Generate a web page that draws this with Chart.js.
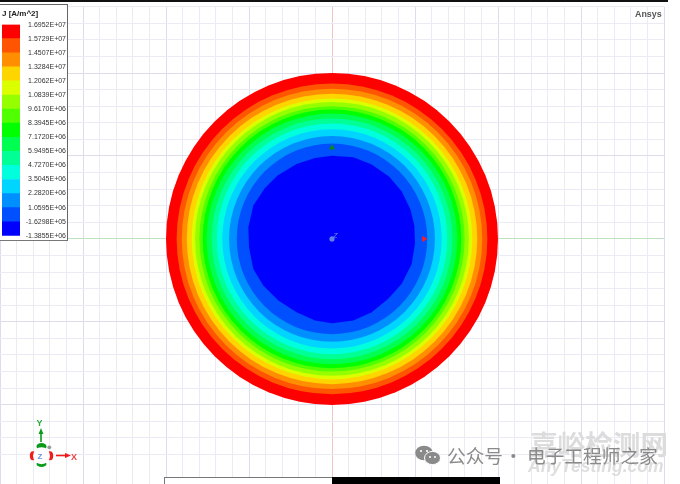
<!DOCTYPE html>
<html>
<head>
<meta charset="utf-8">
<title>J [A/m^2]</title>
<script src="https://cdn.jsdelivr.net/npm/chart.js@4"></script>
<style>
  html, body { margin: 0; padding: 0; background: #fff; overflow: hidden; }
  #page { position: relative; width: 680px; height: 484px; overflow: hidden; filter: blur(0.4px); }
  #plot { position: absolute; left: 0; top: 0; }
  #legendBox { position: absolute; left: 0; top: 4px; width: 67px; height: 235px; background: #fff;
    border-top: 1.5px solid #666; border-right: 1.5px solid #666; border-bottom: 1px solid #777; }
  #legendChart { position: absolute; left: 0; top: 0; }
  #topBar { position: absolute; left: 0; top: 0; width: 668px; height: 2px; background: #111; }
  .scaleBar { position: absolute; top: 477px; height: 8px; box-sizing: border-box; }
  .label { position: absolute; white-space: nowrap; line-height: 1; }
  #gizmo { position: absolute; left: 0; top: 0; }
</style>
</head>
<body>
<div id="page">
  <canvas id="plot" width="680" height="484"></canvas>
  <div id="topBar"></div>
  <div id="legendBox"><canvas id="legendChart" width="67" height="241"></canvas></div>
  <div class="scaleBar" style="left:164px;width:168px;background:#fff;border:1px solid #777;border-right:0"></div>
  <div class="scaleBar" style="left:332px;width:168px;background:#000"></div>
  <span class="label" style="left:635px;top:9px;font:bold 8.9px 'Liberation Sans';color:#555">Ansys</span>
  <span class="label" style="left:333px;top:231px;font:italic 7.5px 'Liberation Sans';color:#6f86e6">Z</span>
  <svg id="gizmo" width="680" height="484">
    <ellipse cx="41.5" cy="446.5" rx="5" ry="3.4" fill="#0a9a1a"/>
    <ellipse cx="41.5" cy="464" rx="5" ry="3" fill="#0a9a1a"/>
    <ellipse cx="33" cy="455.7" rx="3.2" ry="4.5" fill="#f01c1c"/>
    <ellipse cx="50" cy="455.7" rx="3.2" ry="4.5" fill="#f01c1c"/>
    <circle cx="41.5" cy="455.7" r="8.5" fill="#fff"/>
    <circle cx="49.3" cy="447.3" r="1.9" fill="#999"/>
    <path d="M41 442V432" stroke="#0a9a1a" stroke-width="1.6"/>
    <path d="M41 428l2.4 6h-4.8z" fill="#0a9a1a"/>
    <path d="M56 455.5H66" stroke="#f01c1c" stroke-width="1.6"/>
    <path d="M71 455.5l-6 2.4v-4.8z" fill="#f01c1c"/>
    <text x="36.5" y="426" font-family="Liberation Sans" font-size="9" font-weight="bold" fill="#27a838">Y</text>
    <text x="71" y="460" font-family="Liberation Sans" font-size="9" font-weight="bold" fill="#f04040">X</text>
    <text x="37.5" y="459" font-family="Liberation Sans" font-size="8" font-weight="bold" fill="#6f90e0">Z</text>
    <ellipse cx="424" cy="453" rx="8.8" ry="7.3" fill="#8a8a8a"/>
    <ellipse cx="432.5" cy="458" rx="8" ry="6.6" fill="#8a8a8a" stroke="#fff" stroke-width="1"/>
    <circle cx="421" cy="451" r="1.1" fill="#fff"/><circle cx="427" cy="451" r="1.1" fill="#fff"/>
    <circle cx="430" cy="457" r="1" fill="#fff"/><circle cx="435" cy="457" r="1" fill="#fff"/>
  </svg>
  <span class="label" style="left:530px;top:423px;font:bold 27.6px 'Noto Sans CJK SC';color:#dcdcdc">嘉峪检测网</span>
  <span class="label" style="left:528px;top:456px;font:italic bold 17.5px 'Liberation Sans';color:#dedede">AnyTesting.com</span>
  <span class="label" style="left:447px;top:441px;font:18.7px 'Noto Sans CJK SC';color:#8a8a8a">公众号</span>
  <span class="label" style="left:504px;top:441px;font:18.7px 'Noto Sans CJK SC';color:#8a8a8a">·</span>
  <span class="label" style="left:527px;top:441px;font:18.7px 'Noto Sans CJK SC';color:#8a8a8a">电子工程师之家</span>
</div>
<script>
// Contour bands, outer to inner. Radii (1 unit = one grid cell).
const bandRadius = [10.0, 9.36, 9.05, 8.75, 8.45, 8.25, 7.99, 7.79, 7.55, 7.25, 6.95, 6.61, 6.2, 5.74, 5.04];
const bandColors = [
  "#ff0000", "#ff5500", "#ff8f00", "#ffd500", "#dcff00", "#95ff00", "#50ff00", "#00ff00",
  "#00ff50", "#00ff95", "#00ffdc", "#00d5ff", "#008fff", "#0050ff", "#0000ff",
];
const legendLabels = [
  "1.6952E+07", "1.5729E+07", "1.4507E+07", "1.3284E+07", "1.2062E+07", "1.0839E+07",
  "9.6170E+06", "8.3945E+06", "7.1720E+06", "5.9495E+06", "4.7270E+06", "3.5045E+06",
  "2.2820E+06", "1.0595E+06", "-1.6298E+05", "-1.3855E+06",
];

// Faceted edge of the innermost contour
const coreX = [0, 1.29, 2.39, 3.45, 4.2, 4.72, 4.96, 5.0, 4.8, 4.2, 3.39, 2.39, 1.29, 0, -1.02, -2.13, -3.23, -4.14, -4.74, -5.0, -5.04, -4.74, -4.05, -3.3, -2.13, -1.02, 0];
const coreY = [5.02, 4.92, 4.48, 3.75, 2.85, 1.78, 0.8, -0.3, -1.51, -2.71, -3.61, -4.42, -4.92, -5.08, -4.92, -4.42, -3.72, -2.81, -1.81, -0.5, 0.7, 2.01, 3.05, 3.8, 4.52, 4.88, 5.02];

// Axis triad on the model
const originPoint = [{ x: 0, y: 0 }];
const xMarker = [{ x: 5.54, y: 0 }];
const yMarker = [{ x: 0, y: 5.5 }];

function gridColor(ctx, zeroColor) {
  const v = ctx.tick.value;
  if (!Number.isInteger(v)) return "rgba(0,0,0,0)";
  if (v === 0) return zeroColor;
  return v % 5 === 0 ? "#dcdcec" : "#ebebf6";
}

function ringDataset(radius, color) {
  return {
    data: [{ x: 0, y: 0 }],
    pointStyle: "circle",
    backgroundColor: color,
    borderWidth: 0,
    clip: false,
    // radius goes through the x scale so it stays in axis units
    pointRadius: (ctx) => {
      const xs = ctx.chart.scales.x;
      return xs.getPixelForValue(radius) - xs.getPixelForValue(0);
    },
  };
}

// First dataset is painted last, so markers come first and the biggest disc last
const plotDatasets = [
  { data: originPoint, pointStyle: "circle", radius: 2.6, backgroundColor: "#5f7fe8", borderWidth: 0 },
  { data: xMarker, pointStyle: "triangle", rotation: 90, radius: 3.6, backgroundColor: "#f5202a", borderWidth: 0 },
  { data: yMarker, pointStyle: "triangle", radius: 3.6, backgroundColor: "#0a8a1a", borderWidth: 0 },
  {
    data: coreX.map((x, i) => ({ x, y: coreY[i] })),
    showLine: true,
    fill: "shape",
    backgroundColor: bandColors[14],
    borderColor: bandColors[14],
    borderWidth: 0,
    radius: 0,
    tension: 0,
  },
];
for (let i = bandRadius.length - 2; i >= 0; i--) {
  plotDatasets.push(ringDataset(bandRadius[i], bandColors[i]));
}

new Chart(document.getElementById("plot"), {
  type: "scatter",
  data: { datasets: plotDatasets },
  options: {
    responsive: false,
    animation: false,
    events: [],
    layout: { autoPadding: false, padding: { left: 0, right: 16, top: 6.7, bottom: 0 } },
    plugins: { legend: { display: false }, tooltip: { enabled: false } },
    scales: {
      x: {
        type: "linear",
        min: -20,
        max: 20,
        ticks: { display: false, stepSize: 1 },
        border: { display: false },
        grid: { drawTicks: false, color: (ctx) => gridColor(ctx, "#f3c4c4") },
      },
      y: {
        type: "linear",
        min: -14.78,
        max: 14,
        ticks: { display: false, stepSize: 1 },
        border: { display: false },
        grid: { drawTicks: false, color: (ctx) => gridColor(ctx, "#bfe2bf") },
      },
    },
  },
});

// Colour key: one stacked bar, labels sit on the band edges
const keyDatasets = bandColors
  .slice()
  .reverse()
  .map((color) => ({ data: [1], backgroundColor: color, borderWidth: 0, barPercentage: 1, categoryPercentage: 1 }));

new Chart(document.getElementById("legendChart"), {
  type: "bar",
  data: { labels: ["J"], datasets: keyDatasets },
  options: {
    responsive: false,
    animation: false,
    events: [],
    layout: { autoPadding: false, padding: { left: 2, right: 1, top: 0, bottom: 0 } },
    plugins: {
      legend: { display: false },
      tooltip: { enabled: false },
      title: {
        display: true,
        text: "J [A/m^2]",
        align: "start",
        color: "#222",
        font: { family: "Liberation Sans", size: 8, weight: "bold" },
        padding: { top: 4, bottom: 6 },
      },
    },
    scales: {
      x: { stacked: true, display: false },
      y: {
        stacked: true,
        position: "right",
        min: 0,
        max: 15,
        border: { display: false },
        grid: { display: false, drawTicks: false },
        afterFit: (scale) => { scale.width = 46; },
        ticks: {
          stepSize: 1,
          autoSkip: false,
          padding: 6,
          crossAlign: "far",
          color: "#333",
          font: { family: "Liberation Sans", size: 7 },
          callback: (value) => legendLabels[15 - value],
        },
      },
    },
  },
});
</script>
</body>
</html>
